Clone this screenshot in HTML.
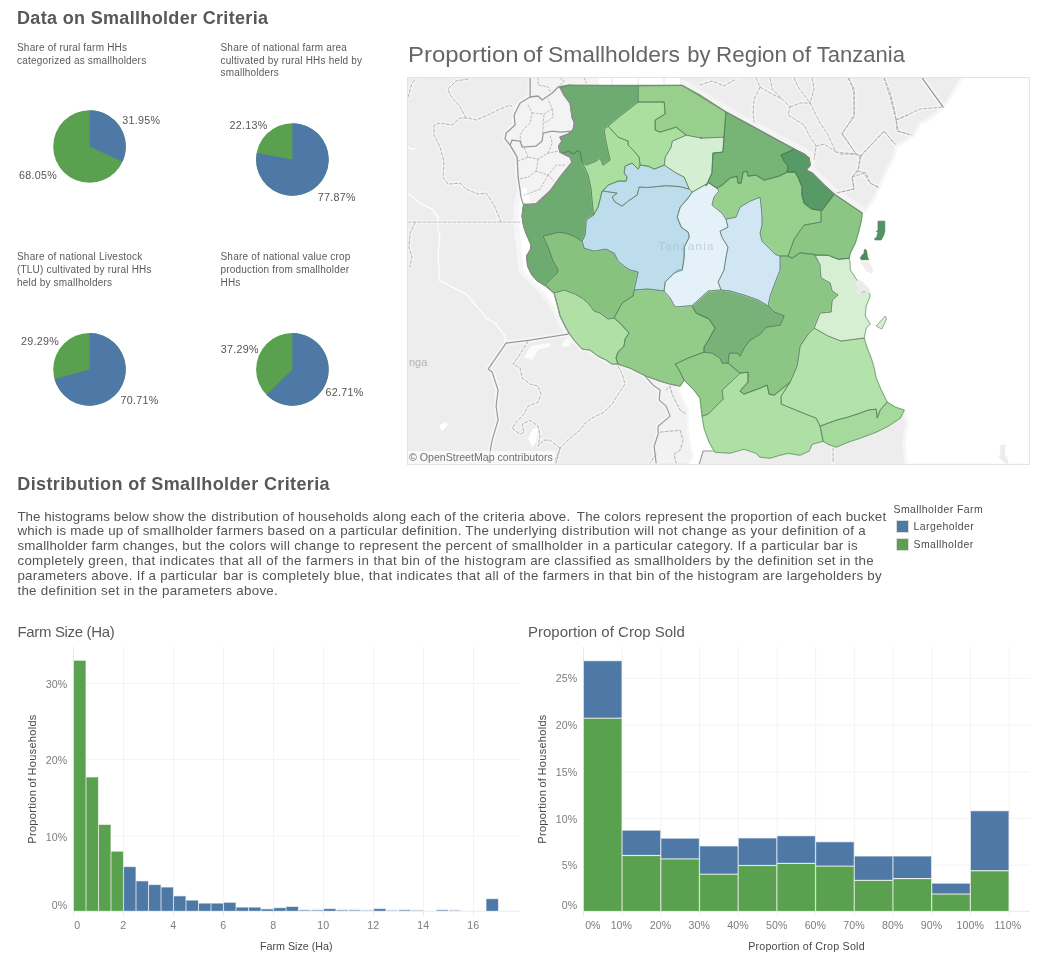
<!DOCTYPE html>
<html lang="en"><head><meta charset="utf-8"><title>Smallholder Dashboard</title>
<style>
html,body{margin:0;padding:0;background:#fff;}
body{width:1039px;height:965px;position:relative;overflow:hidden;font-family:"Liberation Sans",sans-serif;color:#555;}
.t{position:absolute;white-space:nowrap;line-height:1;}
.h1{font-size:18px;font-weight:bold;color:#585858;letter-spacing:0.33px;}
.mt{font-size:22px;color:#666;}
.st{font-size:10px;line-height:12.7px;color:#5a5a5a;letter-spacing:0.2px;white-space:normal;}
.pl{font-size:10.7px;color:#555;letter-spacing:0.3px;}
.para{position:absolute;font-size:13.33px;line-height:14.85px;color:#545454;white-space:nowrap;}
.ct{font-size:15px;color:#5a5a5a;}
.ax{font-size:10.6px;color:#7d7d7d;letter-spacing:0.1px;}
.axt{font-size:10.7px;color:#484848;}
.axt2{font-size:11px;color:#484848;letter-spacing:0.3px;word-spacing:-1px;}
.lg{font-size:10.5px;color:#4c4c4c;letter-spacing:0.42px;}
#mapwrap{position:absolute;left:407px;top:77px;width:622.5px;height:387.5px;overflow:hidden;}
#mapborder{position:absolute;left:407px;top:77px;width:621px;height:386px;border:1px solid #e3e3e3;box-sizing:content-box;pointer-events:none;}
svg{display:block;}
</style></head><body>

<div class="t h1" style="left:17px;top:8.6px;">Data on Smallholder Criteria</div>
<div class="t mt tw" style="left:407.80px;top:43.7px;transform-origin:0 0;transform:scaleX(1.089)">Proportion</div>
<div class="t mt tw" style="left:522.60px;top:43.7px;transform-origin:0 0;transform:scaleX(1.07)">of</div>
<div class="t mt tw" style="left:548.35px;top:43.7px;transform-origin:0 0;transform:scaleX(1.038)">Smallholders</div>
<div class="t mt tw" style="left:687.15px;top:43.7px;transform-origin:0 0;transform:scaleX(1.0)">by</div>
<div class="t mt tw" style="left:715.80px;top:43.7px;transform-origin:0 0;transform:scaleX(1.019)">Region</div>
<div class="t mt tw" style="left:791.60px;top:43.7px;transform-origin:0 0;transform:scaleX(1.04)">of</div>
<div class="t mt tw" style="left:816.80px;top:43.7px;transform-origin:0 0;transform:scaleX(1.0)">Tanzania</div>
<div class="t st" style="left:17px;top:41.8px;width:180px">Share of rural farm HHs<br>categorized as smallholders</div>
<div class="t st" style="left:220.5px;top:41.8px;width:180px">Share of national farm area<br>cultivated by rural HHs held by<br>smallholders</div>
<div class="t st" style="left:17px;top:251.4px;width:180px">Share of national Livestock<br>(TLU) cultivated by rural HHs<br>held by smallholders</div>
<div class="t st" style="left:220.5px;top:251.4px;width:180px">Share of national value crop<br>production from smallholder<br>HHs</div>
<svg style="position:absolute;left:0;top:0" width="400" height="470" viewBox="0 0 400 470"><circle cx="89.5" cy="146.5" r="36.3" fill="#59a14f"/><path d="M89.5,146.5 L89.5,110.2 A36.3,36.3 0 0 1 122.39,161.85 Z" fill="#4e79a7"/><circle cx="292.4" cy="159.5" r="36.3" fill="#59a14f"/><path d="M292.4,159.5 L292.4,123.2 A36.3,36.3 0 1 1 256.69,152.99 Z" fill="#4e79a7"/><circle cx="89.5" cy="369.4" r="36.3" fill="#59a14f"/><path d="M89.5,369.4 L89.5,333.09999999999997 A36.3,36.3 0 1 1 54.51,379.07 Z" fill="#4e79a7"/><circle cx="292.4" cy="369.4" r="36.3" fill="#59a14f"/><path d="M292.4,369.4 L292.4,333.09999999999997 A36.3,36.3 0 1 1 266.40,394.73 Z" fill="#4e79a7"/></svg>
<div class="t pl" style="left:122.3px;top:114.5px;">31.95%</div>
<div class="t pl" style="left:19px;top:170px;">68.05%</div>
<div class="t pl" style="left:229.6px;top:119.5px;">22.13%</div>
<div class="t pl" style="left:317.8px;top:192.3px;">77.87%</div>
<div class="t pl" style="left:20.9px;top:335.5px;">29.29%</div>
<div class="t pl" style="left:120.4px;top:395px;">70.71%</div>
<div class="t pl" style="left:220.7px;top:343.7px;">37.29%</div>
<div class="t pl" style="left:325.6px;top:387px;">62.71%</div>
<div id="mapwrap"><svg id="map" width="623" height="388" viewBox="0 0 623 388">
<rect width="623" height="388" fill="#ededed"/>
<path d="M1.0,145.1 L113.1,145.1" fill="none" stroke="#f3f3f3" stroke-width="4.5" stroke-linejoin="round" stroke-linecap="round"/>
<path d="M94.1,145.1 L87.1,128.1 L79.1,116.1 L71.1,117.1 L59.1,112.1 L53.1,106.1 L41.0,107.1 L36.0,100.1 L37.0,84.1 L33.0,70.1 L27.0,58.1 L27.0,48.0 L33.0,46.0 L45.1,48.0 L53.1,41.0 L61.1,41.0 L69.1,43.0 L81.1,38.0 L93.1,32.0 L103.1,28.0 L105.1,30.0" fill="none" stroke="#f3f3f3" stroke-width="4.5" stroke-linejoin="round" stroke-linecap="round"/>
<path d="M59.1,41.0 L53.1,30.0 L43.1,18.0 L41.0,12.0 L49.1,4.0 L61.1,2.0" fill="none" stroke="#f3f3f3" stroke-width="4.5" stroke-linejoin="round" stroke-linecap="round"/>
<path d="M1.0,20.0 L5.0,6.0 L9.0,2.0" fill="none" stroke="#f3f3f3" stroke-width="4.5" stroke-linejoin="round" stroke-linecap="round"/>
<path d="M8.0,145.1 L3.0,156.2 L2.0,170.2 L5.0,180.2 L3.0,190.2" fill="none" stroke="#f3f3f3" stroke-width="4.5" stroke-linejoin="round" stroke-linecap="round"/>
<path d="M121.1,264.1 L113.1,277.1 L106.1,287.1 L113.1,291.1 L115.1,301.1 L123.1,307.1 L131.1,309.1 L134.1,317.1 L131.1,325.1 L121.1,329.1 L117.1,337.1 L109.1,345.2 L105.1,351.2 L113.1,357.2 L117.1,355.2 L115.1,347.2 L123.1,343.2 L131.1,349.2 L133.1,359.2 L131.1,369.2 L137.1,363.2 L143.2,363.2 L153.2,371.2" fill="none" stroke="#f3f3f3" stroke-width="4.5" stroke-linejoin="round" stroke-linecap="round"/>
<path d="M211.1,289.1 L215.1,297.1 L218.1,307.1 L211.1,317.1 L205.1,327.1 L197.1,335.1 L185.1,341.1 L177.1,347.2 L173.1,353.2 L163.1,361.2 L153.1,371.2 L149.1,386.0" fill="none" stroke="#f3f3f3" stroke-width="4.5" stroke-linejoin="round" stroke-linecap="round"/>
<path d="M153.2,371.2 L149.2,381.2 L147.2,386.0" fill="none" stroke="#f3f3f3" stroke-width="4.5" stroke-linejoin="round" stroke-linecap="round"/>
<path d="M121.1,28.0 L125.1,36.0 L123.1,46.0 L115.1,54.1 L113.1,60.1 L115.1,69.1" fill="none" stroke="#f3f3f3" stroke-width="4.5" stroke-linejoin="round" stroke-linecap="round"/>
<path d="M125.1,36.0 L137.1,37.0 L145.2,32.0 L141.1,22.0" fill="none" stroke="#f3f3f3" stroke-width="4.5" stroke-linejoin="round" stroke-linecap="round"/>
<path d="M136.1,56.1 L136.1,46.0 L137.1,37.0" fill="none" stroke="#f3f3f3" stroke-width="4.5" stroke-linejoin="round" stroke-linecap="round"/>
<path d="M145.2,32.0 L146.2,40.0 L141.1,44.0 L136.1,46.0" fill="none" stroke="#f3f3f3" stroke-width="4.5" stroke-linejoin="round" stroke-linecap="round"/>
<path d="M111.1,84.1 L121.1,80.1 L131.1,82.1 L141.1,76.1 L151.2,74.1" fill="none" stroke="#f3f3f3" stroke-width="4.5" stroke-linejoin="round" stroke-linecap="round"/>
<path d="M121.1,80.1 L117.1,70.1" fill="none" stroke="#f3f3f3" stroke-width="4.5" stroke-linejoin="round" stroke-linecap="round"/>
<path d="M131.1,82.1 L129.1,94.1 L121.1,100.1 L111.1,102.1" fill="none" stroke="#f3f3f3" stroke-width="4.5" stroke-linejoin="round" stroke-linecap="round"/>
<path d="M129.1,94.1 L141.1,98.1 L149.2,88.1 L159.2,88.1" fill="none" stroke="#f3f3f3" stroke-width="4.5" stroke-linejoin="round" stroke-linecap="round"/>
<path d="M141.1,98.1 L133.1,112.1 L117.1,118.1" fill="none" stroke="#f3f3f3" stroke-width="4.5" stroke-linejoin="round" stroke-linecap="round"/>
<path d="M141.1,76.1 L145.2,66.1 L143.2,58.1" fill="none" stroke="#f3f3f3" stroke-width="4.5" stroke-linejoin="round" stroke-linecap="round"/>
<path d="M141.1,98.1 L147.2,104.1" fill="none" stroke="#f3f3f3" stroke-width="4.5" stroke-linejoin="round" stroke-linecap="round"/>
<path d="M131.1,1.0 L131.1,8.0 L141.1,10.0 L143.2,15.0" fill="none" stroke="#f3f3f3" stroke-width="4.5" stroke-linejoin="round" stroke-linecap="round"/>
<path d="M153.2,1.0 L157.2,4.0 L151.2,10.0" fill="none" stroke="#f3f3f3" stroke-width="4.5" stroke-linejoin="round" stroke-linecap="round"/>
<path d="M177.2,1.0 L179.2,6.0" fill="none" stroke="#f3f3f3" stroke-width="4.5" stroke-linejoin="round" stroke-linecap="round"/>
<path d="M293.0,8.0 L305.0,4.0 L317.0,9.0 L329.0,2.0" fill="none" stroke="#f3f3f3" stroke-width="4.5" stroke-linejoin="round" stroke-linecap="round"/>
<path d="M349.1,1.0 L353.1,10.0 L347.1,22.0 L346.1,36.0 L347.1,45.0" fill="none" stroke="#f3f3f3" stroke-width="4.5" stroke-linejoin="round" stroke-linecap="round"/>
<path d="M353.1,10.0 L363.1,16.0 L375.1,22.0 L383.1,30.0 L381.1,38.0 L397.1,48.0 L402.1,58.1 L409.1,69.1 L407.1,82.1" fill="none" stroke="#f3f3f3" stroke-width="4.5" stroke-linejoin="round" stroke-linecap="round"/>
<path d="M363.1,1.0 L365.1,12.0 L375.1,22.0" fill="none" stroke="#f3f3f3" stroke-width="4.5" stroke-linejoin="round" stroke-linecap="round"/>
<path d="M387.1,1.0 L391.1,10.0 L403.1,26.0 L413.1,46.0 L421.1,58.1 L429.1,75.1 L449.2,77.1 L453.2,79.1" fill="none" stroke="#f3f3f3" stroke-width="4.5" stroke-linejoin="round" stroke-linecap="round"/>
<path d="M383.1,30.0 L393.1,26.0 L403.1,26.0" fill="none" stroke="#f3f3f3" stroke-width="4.5" stroke-linejoin="round" stroke-linecap="round"/>
<path d="M405.1,1.0 L407.1,12.0 L403.1,26.0" fill="none" stroke="#f3f3f3" stroke-width="4.5" stroke-linejoin="round" stroke-linecap="round"/>
<path d="M409.1,69.1 L417.1,67.1 L429.1,75.1" fill="none" stroke="#f3f3f3" stroke-width="4.5" stroke-linejoin="round" stroke-linecap="round"/>
<path d="M441.1,1.0 L447.2,12.0 L447.2,40.0 L435.1,56.1 L443.2,68.1 L449.2,77.1" fill="none" stroke="#f3f3f3" stroke-width="4.5" stroke-linejoin="round" stroke-linecap="round"/>
<path d="M477.2,1.0 L483.2,16.0 L487.2,32.0 L489.2,43.0 L491.2,54.1 L501.0,57.1" fill="none" stroke="#f3f3f3" stroke-width="4.5" stroke-linejoin="round" stroke-linecap="round"/>
<path d="M453.2,79.1 L477.2,54.1 L485.2,64.1 L488.2,67.1" fill="none" stroke="#f3f3f3" stroke-width="4.5" stroke-linejoin="round" stroke-linecap="round"/>
<path d="M489.2,43.0 L501.0,38.0" fill="none" stroke="#f3f3f3" stroke-width="4.5" stroke-linejoin="round" stroke-linecap="round"/>
<path d="M453.2,79.1 L451.2,92.1 L445.2,100.1 L447.2,112.1 L429.1,116.1" fill="none" stroke="#f3f3f3" stroke-width="4.5" stroke-linejoin="round" stroke-linecap="round"/>
<path d="M451.2,94.1 L459.2,96.1 L463.2,106.1 L471.2,110.1" fill="none" stroke="#f3f3f3" stroke-width="4.5" stroke-linejoin="round" stroke-linecap="round"/>
<path d="M442.0,1.0 L447.0,16.0 L447.0,38.0 L435.0,57.1" fill="none" stroke="#f3f3f3" stroke-width="4.5" stroke-linejoin="round" stroke-linecap="round"/>
<path d="M477.0,1.0 L483.1,20.0 L489.1,43.0 L490.1,54.1 L505.1,58.1" fill="none" stroke="#f3f3f3" stroke-width="4.5" stroke-linejoin="round" stroke-linecap="round"/>
<path d="M489.1,43.0 L513.1,32.0 L536.1,30.0" fill="none" stroke="#f3f3f3" stroke-width="4.5" stroke-linejoin="round" stroke-linecap="round"/>
<path d="M435.0,57.1 L449.0,77.1 L454.0,79.1 L477.0,54.1 L488.1,67.1" fill="none" stroke="#f3f3f3" stroke-width="4.5" stroke-linejoin="round" stroke-linecap="round"/>
<path d="M433.0,77.1 L449.0,77.1" fill="none" stroke="#f3f3f3" stroke-width="4.5" stroke-linejoin="round" stroke-linecap="round"/>
<path d="M454.0,79.1 L451.0,94.1 L445.0,100.1 L447.0,112.1 L433.0,115.1" fill="none" stroke="#f3f3f3" stroke-width="4.5" stroke-linejoin="round" stroke-linecap="round"/>
<path d="M445.0,100.1 L457.0,96.1 L463.0,106.1 L471.0,110.1" fill="none" stroke="#f3f3f3" stroke-width="4.5" stroke-linejoin="round" stroke-linecap="round"/>
<path d="M426.1,371.2 L426.1,386.0" fill="none" stroke="#f3f3f3" stroke-width="4.5" stroke-linejoin="round" stroke-linecap="round"/>
<path d="M259.1,313.1 L263.1,309.1 L265.1,317.1 L273.1,333.1 L279.1,337.1" fill="none" stroke="#f3f3f3" stroke-width="4.5" stroke-linejoin="round" stroke-linecap="round"/>
<path d="M253.1,355.2 L273.1,353.2 L276.1,363.2 L273.1,373.2 L267.1,377.2 L269.1,386.0" fill="none" stroke="#f3f3f3" stroke-width="4.5" stroke-linejoin="round" stroke-linecap="round"/>
<path d="M249.1,377.2 L243.1,386.0" fill="none" stroke="#f3f3f3" stroke-width="4.5" stroke-linejoin="round" stroke-linecap="round"/>
<path d="M153.1,10.4 L162.1,8.4 L275.2,8.4 L319.0,35.0 L387.1,72.1 L397.1,77.1 L402.1,81.1 L403.1,88.1 L399.1,93.1 L405.1,96.1 L417.1,108.1 L427.1,117.1 L455.2,136.1" fill="none" stroke="#f4f4f4" stroke-width="7" stroke-linejoin="round" stroke-linecap="round" transform="translate(1.4,-2)"/>
<path d="M123.1,1.0 L123.1,20.0 L113.1,26.0 L107.1,38.0 L108.1,48.0 L99.1,56.1 L98.1,62.1 L103.1,68.1 L110.1,80.1 L111.1,100.1 L114.1,120.1 L116.1,127.1 L129.1,127.1" fill="none" stroke="#f6f6f6" stroke-width="5" stroke-linejoin="round" stroke-linecap="round" />
<path d="M114.1,112.1 L111.1,128.1 L110.1,144.1 L113.1,170.2 L115.5,193.0 L123.1,201.0 L135.1,213.0 L147.2,229.0 L155.2,245.1 L161.2,255.1 L166.2,262.1" fill="none" stroke="#f6f6f6" stroke-width="8" stroke-linejoin="round" stroke-linecap="round" />
<path d="M99.1,266.1 L123.1,263.1 L161.2,257.1" fill="none" stroke="#f6f6f6" stroke-width="5" stroke-linejoin="round" stroke-linecap="round" />
<path d="M99.1,266.1 L81.1,292.1 L85.1,295.1 L91.1,313.1 L89.1,329.1 L91.1,343.2 L85.1,363.2 L81.1,386.0" fill="none" stroke="#f6f6f6" stroke-width="5" stroke-linejoin="round" stroke-linecap="round" />
<path d="M238.0,299.1 L247.1,309.1 L253.1,313.1 L252.1,323.1 L259.1,329.1 L263.1,339.1 L251.1,349.2 L251.1,357.2 L247.1,369.2 L249.1,386.0" fill="none" stroke="#f6f6f6" stroke-width="5" stroke-linejoin="round" stroke-linecap="round" />
<path d="M515.1,1.0 L536.1,30.0" fill="none" stroke="#f6f6f6" stroke-width="5" stroke-linejoin="round" stroke-linecap="round" />
<path d="M153.1,10.4 L157.1,18.0 L163.1,26.0 L164.1,32.0 L165.1,40.0 L167.5,46.0 L166.1,53.1 L161.1,57.1 L153.1,60.1 L155.1,64.1 L151.7,69.1 L153.1,75.1 L163.1,80.1 L165.1,85.1 L161.1,90.1 L153.1,100.1 L143.1,114.1 L129.0,127.1 L117.0,128.1" fill="none" stroke="#f6f6f6" stroke-width="6" stroke-linejoin="round" stroke-linecap="round" />
<path d="M162.1,256.7 L167.1,263.1 L175.1,272.1 L183.1,273.1 L191.1,279.1 L199.1,283.1 L205.1,287.1 L211.1,287.1 L211.0,287.1 L223.0,291.1 L239.0,299.1 L253.1,304.1 L263.1,307.1 L273.1,309.1 L277.1,303.1" fill="none" stroke="#f6f6f6" stroke-width="5" stroke-linejoin="round" stroke-linecap="round" />
<path d="M123.1,20.0 L113.1,26.0 L107.1,38.0 L108.1,48.0 L99.1,56.1 L98.1,62.1 L103.1,68.1 L110.1,80.1 L111.1,100.1 L114.1,120.1 L116.1,127.1 L129.1,127.1 L145.2,112.1 L159.2,94.1 L165.2,84.1 L153.2,74.1 L153.2,66.1 L165.2,54.1 L163.2,26.0 L153.2,10.0 L145.2,16.0 L135.1,23.0 L131.1,19.0Z" fill="#f3f3f3" stroke="none" stroke-width="0" />
<path d="M123.1,1.0 L123.1,20.0 L131.1,19.0 L135.1,23.0 L145.2,16.0 L151.2,10.0 L163.2,8.0 L193.2,8.0 L193.2,1.0Z" fill="#f3f3f3" stroke="none" stroke-width="0" />
<path d="M555.0,0.0 L537.0,30.0 L521.0,43.0 L513.0,46.0 L507.0,58.0 L489.0,70.0 L487.0,80.0 L479.0,94.0 L473.0,108.0 L467.0,122.0 L459.0,132.0 L455.4,136.0 L443.0,173.0 L433.0,223.0 L443.0,273.0 L453.0,323.0 L473.0,333.0 L497.0,334.0 L500.0,346.0 L497.0,365.0 L499.0,388.0 L624.0,388.0 L624.0,0.0Z" fill="#ffffff" stroke="#f6f6f6" stroke-width="3" />
<path d="M192.0,0.0 L192.0,9.0 L273.0,9.0 L273.0,0.0Z" fill="#ffffff" stroke="none" stroke-width="0" />
<path d="M114.5,112.0 L112.5,128.0 L112.0,144.0 L114.5,170.0 L116.5,193.0 L124.0,201.0 L135.5,213.0 L147.0,229.0 L155.0,245.0 L160.5,255.0 L166.0,262.0 L175.0,261.0 L165.0,235.0 L155.0,215.0 L140.0,199.0 L129.0,185.0 L127.0,163.0 L123.0,138.0 L123.0,123.0 L119.0,110.0Z" fill="#ffffff" stroke="none" stroke-width="0" />
<path d="M238.0,299.1 L247.1,309.1 L253.1,313.1 L252.1,323.1 L259.1,329.1 L263.1,339.1 L251.1,349.2 L251.1,357.2 L247.1,369.2 L249.1,386.0 L297.1,386.0 L283.1,353.2 L281.1,321.1 L273.1,307.1 L259.1,305.1Z" fill="#f2f2f2" stroke="none" stroke-width="0" />
<path d="M271.0,304.0 L279.0,304.0 L297.0,323.0 L301.0,349.0 L309.0,373.0 L307.0,374.0 L296.2,374.0 L291.6,389.0 L280.8,389.0 L285.4,379.3 L280.8,354.6 L280.8,333.0 L271.5,313.0Z" fill="#ffffff" stroke="#f7f7f7" stroke-width="2" />
<path d="M307.0,374.0 L296.2,374.0 L291.6,389.0 L353.0,389.0 L353.0,378.0Z" fill="#efefef" stroke="none" stroke-width="0" />
<path d="M117.1,281.1 L123.1,269.1 L143.2,266.1 L144.2,269.1 L131.1,273.1 L125.1,283.1Z" fill="#fbfbfb" stroke="none" stroke-width="0" />
<path d="M154.2,269.1 L159.2,261.1 L163.2,263.1 L162.2,270.1Z" fill="#fbfbfb" stroke="none" stroke-width="0" />
<path d="M121.1,361.2 L126.1,351.2 L131.1,351.2 L129.1,365.2 L125.1,370.2Z" fill="#ffffff" stroke="none" stroke-width="0" />
<path d="M32.0,348.2 L39.0,345.2 L41.0,348.2 L35.0,354.2Z" fill="#ffffff" stroke="none" stroke-width="0" />
<path d="M593.3,368.1 L598.6,367.3 L597.9,376.5 L601.7,384.8 L600.1,387.1 L595.6,384.1 L591.8,380.3 L593.3,376.5Z" fill="#ededed" stroke="none" stroke-width="0" />
<path d="M453.0,184.6 L462.0,184.6 L466.0,193.0 L465.0,197.0 L459.0,194.0Z" fill="#eeeeee" stroke="none" stroke-width="0" />
<path d="M1.0,116.1 L13.0,126.1 L25.0,132.1 L31.0,140.1 L31.0,152.2 L33.0,160.2 L31.0,176.2 L32.0,193.0 L32.0,203.0 L43.1,209.0 L59.1,217.0 L71.1,231.0 L79.1,241.0 L89.1,247.1 L98.1,259.1 L98.1,266.1" fill="none" stroke="#ffffff" stroke-width="1.2" stroke-linejoin="round" stroke-linecap="round" />
<path d="M1.0,70.1 L5.0,72.1 L8.0,71.7" fill="none" stroke="#ffffff" stroke-width="1.2" stroke-linejoin="round" stroke-linecap="round" />
<path d="M1.0,145.1 L113.1,145.1" fill="none" stroke="#b4b4b4" stroke-width="0.8" stroke-linejoin="round" stroke-linecap="round" stroke-dasharray="3 2" />
<path d="M94.1,145.1 L87.1,128.1 L79.1,116.1 L71.1,117.1 L59.1,112.1 L53.1,106.1 L41.0,107.1 L36.0,100.1 L37.0,84.1 L33.0,70.1 L27.0,58.1 L27.0,48.0 L33.0,46.0 L45.1,48.0 L53.1,41.0 L61.1,41.0 L69.1,43.0 L81.1,38.0 L93.1,32.0 L103.1,28.0 L105.1,30.0" fill="none" stroke="#acacac" stroke-width="0.9" stroke-linejoin="round" stroke-linecap="round" stroke-dasharray="3 2" />
<path d="M59.1,41.0 L53.1,30.0 L43.1,18.0 L41.0,12.0 L49.1,4.0 L61.1,2.0" fill="none" stroke="#acacac" stroke-width="0.9" stroke-linejoin="round" stroke-linecap="round" stroke-dasharray="3 2" />
<path d="M1.0,20.0 L5.0,6.0 L9.0,2.0" fill="none" stroke="#acacac" stroke-width="0.9" stroke-linejoin="round" stroke-linecap="round" stroke-dasharray="3 2" />
<path d="M8.0,145.1 L3.0,156.2 L2.0,170.2 L5.0,180.2 L3.0,190.2" fill="none" stroke="#acacac" stroke-width="0.9" stroke-linejoin="round" stroke-linecap="round" stroke-dasharray="3 2" />
<path d="M121.1,264.1 L113.1,277.1 L106.1,287.1 L113.1,291.1 L115.1,301.1 L123.1,307.1 L131.1,309.1 L134.1,317.1 L131.1,325.1 L121.1,329.1 L117.1,337.1 L109.1,345.2 L105.1,351.2 L113.1,357.2 L117.1,355.2 L115.1,347.2 L123.1,343.2 L131.1,349.2 L133.1,359.2 L131.1,369.2 L137.1,363.2 L143.2,363.2 L153.2,371.2" fill="none" stroke="#acacac" stroke-width="0.9" stroke-linejoin="round" stroke-linecap="round" stroke-dasharray="3 2" />
<path d="M211.1,289.1 L215.1,297.1 L218.1,307.1 L211.1,317.1 L205.1,327.1 L197.1,335.1 L185.1,341.1 L177.1,347.2 L173.1,353.2 L163.1,361.2 L153.1,371.2 L149.1,386.0" fill="none" stroke="#acacac" stroke-width="0.9" stroke-linejoin="round" stroke-linecap="round" stroke-dasharray="3 2" />
<path d="M153.2,371.2 L149.2,381.2 L147.2,386.0" fill="none" stroke="#acacac" stroke-width="0.9" stroke-linejoin="round" stroke-linecap="round" stroke-dasharray="3 2" />
<path d="M121.1,28.0 L125.1,36.0 L123.1,46.0 L115.1,54.1 L113.1,60.1 L115.1,69.1" fill="none" stroke="#acacac" stroke-width="0.8" stroke-linejoin="round" stroke-linecap="round" stroke-dasharray="2 2" />
<path d="M125.1,36.0 L137.1,37.0 L145.2,32.0 L141.1,22.0" fill="none" stroke="#acacac" stroke-width="0.8" stroke-linejoin="round" stroke-linecap="round" stroke-dasharray="2 2" />
<path d="M136.1,56.1 L136.1,46.0 L137.1,37.0" fill="none" stroke="#acacac" stroke-width="0.8" stroke-linejoin="round" stroke-linecap="round" stroke-dasharray="2 2" />
<path d="M145.2,32.0 L146.2,40.0 L141.1,44.0 L136.1,46.0" fill="none" stroke="#acacac" stroke-width="0.8" stroke-linejoin="round" stroke-linecap="round" stroke-dasharray="2 2" />
<path d="M111.1,84.1 L121.1,80.1 L131.1,82.1 L141.1,76.1 L151.2,74.1" fill="none" stroke="#acacac" stroke-width="0.8" stroke-linejoin="round" stroke-linecap="round" stroke-dasharray="2 2" />
<path d="M121.1,80.1 L117.1,70.1" fill="none" stroke="#acacac" stroke-width="0.8" stroke-linejoin="round" stroke-linecap="round" stroke-dasharray="2 2" />
<path d="M131.1,82.1 L129.1,94.1 L121.1,100.1 L111.1,102.1" fill="none" stroke="#acacac" stroke-width="0.8" stroke-linejoin="round" stroke-linecap="round" stroke-dasharray="2 2" />
<path d="M129.1,94.1 L141.1,98.1 L149.2,88.1 L159.2,88.1" fill="none" stroke="#acacac" stroke-width="0.8" stroke-linejoin="round" stroke-linecap="round" stroke-dasharray="2 2" />
<path d="M141.1,98.1 L133.1,112.1 L117.1,118.1" fill="none" stroke="#acacac" stroke-width="0.8" stroke-linejoin="round" stroke-linecap="round" stroke-dasharray="2 2" />
<path d="M141.1,76.1 L145.2,66.1 L143.2,58.1" fill="none" stroke="#acacac" stroke-width="0.8" stroke-linejoin="round" stroke-linecap="round" stroke-dasharray="2 2" />
<path d="M141.1,98.1 L147.2,104.1" fill="none" stroke="#acacac" stroke-width="0.8" stroke-linejoin="round" stroke-linecap="round" stroke-dasharray="2 2" />
<path d="M131.1,1.0 L131.1,8.0 L141.1,10.0 L143.2,15.0" fill="none" stroke="#acacac" stroke-width="0.8" stroke-linejoin="round" stroke-linecap="round" stroke-dasharray="2 2" />
<path d="M153.2,1.0 L157.2,4.0 L151.2,10.0" fill="none" stroke="#acacac" stroke-width="0.8" stroke-linejoin="round" stroke-linecap="round" stroke-dasharray="2 2" />
<path d="M177.2,1.0 L179.2,6.0" fill="none" stroke="#acacac" stroke-width="0.8" stroke-linejoin="round" stroke-linecap="round" stroke-dasharray="2 2" />
<path d="M205.0,1.0 L205.0,8.0" fill="none" stroke="#e4e4e4" stroke-width="1" stroke-linejoin="round" stroke-linecap="round" />
<path d="M231.0,1.0 L231.0,8.0" fill="none" stroke="#e4e4e4" stroke-width="1" stroke-linejoin="round" stroke-linecap="round" />
<path d="M257.0,1.0 L257.0,8.0" fill="none" stroke="#e4e4e4" stroke-width="1" stroke-linejoin="round" stroke-linecap="round" />
<path d="M293.0,8.0 L305.0,4.0 L317.0,9.0 L329.0,2.0" fill="none" stroke="#acacac" stroke-width="0.9" stroke-linejoin="round" stroke-linecap="round" stroke-dasharray="3 2" />
<path d="M349.1,1.0 L353.1,10.0 L347.1,22.0 L346.1,36.0 L347.1,45.0" fill="none" stroke="#acacac" stroke-width="0.9" stroke-linejoin="round" stroke-linecap="round" stroke-dasharray="3 2" />
<path d="M353.1,10.0 L363.1,16.0 L375.1,22.0 L383.1,30.0 L381.1,38.0 L397.1,48.0 L402.1,58.1 L409.1,69.1 L407.1,82.1" fill="none" stroke="#acacac" stroke-width="0.9" stroke-linejoin="round" stroke-linecap="round" stroke-dasharray="3 2" />
<path d="M363.1,1.0 L365.1,12.0 L375.1,22.0" fill="none" stroke="#acacac" stroke-width="0.9" stroke-linejoin="round" stroke-linecap="round" stroke-dasharray="3 2" />
<path d="M387.1,1.0 L391.1,10.0 L403.1,26.0 L413.1,46.0 L421.1,58.1 L429.1,75.1 L449.2,77.1 L453.2,79.1" fill="none" stroke="#acacac" stroke-width="0.9" stroke-linejoin="round" stroke-linecap="round" stroke-dasharray="3 2" />
<path d="M383.1,30.0 L393.1,26.0 L403.1,26.0" fill="none" stroke="#acacac" stroke-width="0.9" stroke-linejoin="round" stroke-linecap="round" stroke-dasharray="3 2" />
<path d="M405.1,1.0 L407.1,12.0 L403.1,26.0" fill="none" stroke="#acacac" stroke-width="0.9" stroke-linejoin="round" stroke-linecap="round" stroke-dasharray="3 2" />
<path d="M409.1,69.1 L417.1,67.1 L429.1,75.1" fill="none" stroke="#acacac" stroke-width="0.9" stroke-linejoin="round" stroke-linecap="round" stroke-dasharray="3 2" />
<path d="M441.1,1.0 L447.2,12.0 L447.2,40.0 L435.1,56.1 L443.2,68.1 L449.2,77.1" fill="none" stroke="#acacac" stroke-width="0.9" stroke-linejoin="round" stroke-linecap="round" stroke-dasharray="3 2" />
<path d="M477.2,1.0 L483.2,16.0 L487.2,32.0 L489.2,43.0 L491.2,54.1 L501.0,57.1" fill="none" stroke="#acacac" stroke-width="0.9" stroke-linejoin="round" stroke-linecap="round" stroke-dasharray="3 2" />
<path d="M453.2,79.1 L477.2,54.1 L485.2,64.1 L488.2,67.1" fill="none" stroke="#acacac" stroke-width="0.9" stroke-linejoin="round" stroke-linecap="round" stroke-dasharray="3 2" />
<path d="M489.2,43.0 L501.0,38.0" fill="none" stroke="#acacac" stroke-width="0.9" stroke-linejoin="round" stroke-linecap="round" stroke-dasharray="3 2" />
<path d="M453.2,79.1 L451.2,92.1 L445.2,100.1 L447.2,112.1 L429.1,116.1" fill="none" stroke="#acacac" stroke-width="0.9" stroke-linejoin="round" stroke-linecap="round" stroke-dasharray="3 2" />
<path d="M451.2,94.1 L459.2,96.1 L463.2,106.1 L471.2,110.1" fill="none" stroke="#acacac" stroke-width="0.9" stroke-linejoin="round" stroke-linecap="round" stroke-dasharray="3 2" />
<path d="M442.0,1.0 L447.0,16.0 L447.0,38.0 L435.0,57.1" fill="none" stroke="#acacac" stroke-width="0.9" stroke-linejoin="round" stroke-linecap="round" stroke-dasharray="3 2" />
<path d="M477.0,1.0 L483.1,20.0 L489.1,43.0 L490.1,54.1 L505.1,58.1" fill="none" stroke="#acacac" stroke-width="0.9" stroke-linejoin="round" stroke-linecap="round" stroke-dasharray="3 2" />
<path d="M489.1,43.0 L513.1,32.0 L536.1,30.0" fill="none" stroke="#acacac" stroke-width="0.9" stroke-linejoin="round" stroke-linecap="round" stroke-dasharray="3 2" />
<path d="M435.0,57.1 L449.0,77.1 L454.0,79.1 L477.0,54.1 L488.1,67.1" fill="none" stroke="#acacac" stroke-width="0.9" stroke-linejoin="round" stroke-linecap="round" stroke-dasharray="3 2" />
<path d="M433.0,77.1 L449.0,77.1" fill="none" stroke="#acacac" stroke-width="0.9" stroke-linejoin="round" stroke-linecap="round" stroke-dasharray="3 2" />
<path d="M454.0,79.1 L451.0,94.1 L445.0,100.1 L447.0,112.1 L433.0,115.1" fill="none" stroke="#acacac" stroke-width="0.9" stroke-linejoin="round" stroke-linecap="round" stroke-dasharray="3 2" />
<path d="M445.0,100.1 L457.0,96.1 L463.0,106.1 L471.0,110.1" fill="none" stroke="#acacac" stroke-width="0.9" stroke-linejoin="round" stroke-linecap="round" stroke-dasharray="3 2" />
<path d="M426.1,371.2 L426.1,386.0" fill="none" stroke="#acacac" stroke-width="0.9" stroke-linejoin="round" stroke-linecap="round" stroke-dasharray="3 2" />
<path d="M259.1,313.1 L263.1,309.1 L265.1,317.1 L273.1,333.1 L279.1,337.1" fill="none" stroke="#acacac" stroke-width="0.9" stroke-linejoin="round" stroke-linecap="round" stroke-dasharray="3 2" />
<path d="M253.1,355.2 L273.1,353.2 L276.1,363.2 L273.1,373.2 L267.1,377.2 L269.1,386.0" fill="none" stroke="#acacac" stroke-width="0.9" stroke-linejoin="round" stroke-linecap="round" stroke-dasharray="3 2" />
<path d="M249.1,377.2 L243.1,386.0" fill="none" stroke="#acacac" stroke-width="0.9" stroke-linejoin="round" stroke-linecap="round" stroke-dasharray="3 2" />
<path d="M123.1,1.0 L123.1,20.0 L131.1,19.0 L135.1,23.0 L145.2,16.0 L151.2,10.0 L163.2,8.0" fill="none" stroke="#9a9a9a" stroke-width="1.3" stroke-linejoin="round" stroke-linecap="round" />
<path d="M123.1,20.0 L113.1,26.0 L107.1,38.0 L108.1,48.0 L99.1,56.1 L98.1,62.1 L103.1,68.1 L105.1,63.1 L113.1,64.1 L115.1,70.1 L129.1,69.1 L135.1,64.1 L136.1,56.1 L145.2,54.1 L153.2,55.1 L165.2,54.1" fill="none" stroke="#9a9a9a" stroke-width="1.3" stroke-linejoin="round" stroke-linecap="round" />
<path d="M103.1,68.1 L110.1,80.1 L111.1,100.1 L114.1,120.1 L116.1,127.1 L129.1,127.1" fill="none" stroke="#9a9a9a" stroke-width="1.3" stroke-linejoin="round" stroke-linecap="round" />
<path d="M99.1,266.1 L123.1,263.1 L161.2,257.1" fill="none" stroke="#9a9a9a" stroke-width="1.2" stroke-linejoin="round" stroke-linecap="round" />
<path d="M99.1,266.1 L81.1,292.1 L85.1,295.1 L91.1,313.1 L89.1,329.1 L91.1,343.2 L85.1,363.2 L81.1,386.0" fill="none" stroke="#9a9a9a" stroke-width="1.2" stroke-linejoin="round" stroke-linecap="round" />
<path d="M238.0,299.1 L247.1,309.1 L253.1,313.1 L252.1,323.1 L259.1,329.1 L263.1,339.1 L251.1,349.2 L251.1,357.2 L247.1,369.2 L249.1,386.0" fill="none" stroke="#9a9a9a" stroke-width="1.2" stroke-linejoin="round" stroke-linecap="round" />
<path d="M307.0,374.0 L296.2,374.0 L291.6,389.0" fill="none" stroke="#9a9a9a" stroke-width="1.1" stroke-linejoin="round" stroke-linecap="round" />
<path d="M515.1,1.0 L536.1,30.0" fill="none" stroke="#8a8a8a" stroke-width="1.2" stroke-linejoin="round" stroke-linecap="round" />
<g stroke="#4f7558" stroke-opacity="0.7" stroke-width="0.8" stroke-linejoin="round">
<path d="M153.1,10.4 L162.1,8.4 L231.1,9.0 L231.1,25.0 L213.1,39.0 L201.1,49.0 L197.1,52.1 L198.1,60.1 L200.1,70.1 L203.1,83.1 L196.1,88.1 L193.1,81.1 L189.1,84.1 L179.1,88.1 L175.1,85.1 L173.1,75.1 L170.1,73.7 L167.1,77.1 L161.1,74.1 L157.1,76.1 L153.1,75.1 L151.7,69.1 L155.1,64.1 L153.1,60.1 L161.1,57.1 L166.1,53.1 L167.5,46.0 L165.1,40.0 L164.1,32.0 L163.1,26.0 L157.1,18.0Z" fill="#6dab71" stroke="#6dab71" stroke-opacity="1" stroke-width="1.4"/>
<path d="M153.1,75.1 L157.1,76.1 L161.1,74.1 L167.1,77.1 L170.1,73.7 L173.1,75.1 L175.1,85.1 L181.1,98.1 L184.1,112.1 L185.1,124.1 L186.5,138.1 L179.1,143.1 L178.7,152.2 L178.1,158.2 L175.1,164.2 L167.1,159.2 L159.1,156.2 L151.1,155.2 L136.0,159.2 L141.0,170.2 L146.1,184.2 L151.1,193.0 L150.1,196.0 L137.8,208.5 L130.3,203.7 L124.7,197.5 L120.6,188.8 L119.7,178.9 L123.5,172.7 L124.1,167.7 L119.7,157.7 L116.6,149.0 L115.1,139.1 L116.6,127.9 L117.0,128.1 L129.0,127.1 L143.1,114.1 L153.1,100.1 L161.1,90.1 L165.1,85.1 L163.1,80.1Z" fill="#6dab71" stroke="#6dab71" stroke-opacity="1" stroke-width="1.4"/>
<path d="M136.0,159.2 L151.1,155.2 L159.1,156.2 L167.1,159.2 L175.1,164.2 L177.1,171.2 L187.1,174.2 L199.1,172.2 L207.1,176.2 L211.1,184.2 L217.1,189.2 L223.1,193.0 L231.1,195.0 L229.1,205.0 L227.1,213.0 L226.1,219.0 L215.1,226.0 L207.1,241.0 L201.1,242.0 L193.1,236.0 L187.1,234.0 L181.1,226.0 L175.1,221.0 L168.1,217.0 L157.1,213.0 L147.1,216.0 L138.0,207.0 L150.1,196.0 L151.1,193.0 L146.1,184.2 L141.0,170.2Z" fill="#87c27f" stroke="#87c27f" stroke-opacity="1" stroke-width="1.4"/>
<path d="M147.1,216.0 L157.1,213.0 L168.1,217.0 L175.1,221.0 L181.1,226.0 L187.1,234.0 L193.1,236.0 L201.1,242.0 L207.1,241.0 L213.1,246.1 L222.1,256.1 L218.1,262.1 L217.1,269.1 L211.1,275.1 L209.1,281.1 L211.1,287.1 L205.1,287.1 L199.1,283.1 L191.1,279.1 L183.1,273.1 L175.1,272.1 L167.1,263.1 L159.1,251.1 L153.1,239.0 L150.1,227.0Z" fill="#b0e0a6" stroke="#b0e0a6" stroke-opacity="1" stroke-width="1.4"/>
<path d="M207.0,241.0 L215.0,226.0 L226.0,219.0 L227.0,213.0 L241.0,212.0 L257.1,214.0 L263.1,221.0 L268.1,230.0 L285.1,228.6 L289.1,236.0 L302.1,242.0 L308.1,251.1 L302.1,262.1 L297.1,270.1 L297.1,275.1 L281.1,281.1 L268.1,287.1 L272.1,293.1 L277.1,303.1 L273.1,309.1 L263.1,307.1 L253.1,304.1 L239.0,299.1 L223.0,291.1 L211.0,287.1 L209.0,281.1 L211.0,275.1 L217.0,269.1 L218.0,262.1 L222.0,256.1 L213.0,246.1Z" fill="#93cc89" stroke="#93cc89" stroke-opacity="1" stroke-width="1.4"/>
<path d="M285.1,228.6 L301.1,214.0 L313.1,213.0 L323.1,214.0 L337.1,218.0 L351.2,223.0 L361.2,229.0 L367.2,235.0 L377.2,239.0 L373.2,248.1 L359.2,250.1 L353.2,257.1 L343.2,263.1 L337.1,271.1 L333.1,279.1 L331.1,276.1 L322.1,276.1 L321.1,286.1 L315.1,286.1 L313.1,281.1 L305.1,276.1 L297.1,275.1 L297.1,270.1 L302.1,262.1 L308.1,251.1 L302.1,242.0 L289.1,236.0Z" fill="#79b279" stroke="#79b279" stroke-opacity="1" stroke-width="1.4"/>
<path d="M268.1,287.1 L281.1,281.1 L297.1,275.1 L305.1,276.1 L313.1,281.1 L315.1,286.1 L321.1,286.1 L333.1,296.1 L315.1,313.1 L316.1,322.1 L301.1,337.1 L295.1,339.1 L293.1,321.1 L287.1,313.1 L277.1,303.1 L272.1,293.1Z" fill="#93cc89" stroke="#93cc89" stroke-opacity="1" stroke-width="1.4"/>
<path d="M295.1,339.1 L301.1,337.1 L316.1,322.1 L315.1,313.1 L333.1,296.1 L341.1,295.1 L341.1,305.1 L333.1,314.1 L337.1,317.1 L353.2,311.1 L360.2,308.1 L362.2,317.1 L367.2,318.1 L383.2,305.1 L374.2,319.1 L374.2,327.1 L401.1,338.1 L409.1,341.1 L413.1,349.2 L416.1,364.2 L405.1,367.2 L402.1,374.2 L393.1,378.2 L381.1,376.2 L373.1,378.2 L363.1,381.2 L353.1,380.2 L349.1,376.2 L337.0,372.2 L323.0,376.2 L308.0,375.2 L302.1,365.2 L297.1,351.2Z" fill="#aedfa5" stroke="#aedfa5" stroke-opacity="1" stroke-width="1.4"/>
<path d="M373.1,178.8 L381.1,178.8 L385.1,181.2 L393.1,175.8 L407.1,177.8 L413.1,188.2 L413.1,193.0 L414.1,201.0 L423.1,206.0 L425.1,214.0 L431.1,218.0 L425.1,223.0 L424.1,235.0 L413.1,236.0 L407.1,251.1 L401.1,257.1 L393.1,269.1 L390.1,289.1 L383.1,305.1 L367.1,318.1 L362.1,317.1 L360.1,308.1 L353.1,311.1 L337.0,317.1 L333.0,314.1 L341.0,305.1 L341.0,295.1 L333.0,296.1 L321.0,286.1 L322.0,276.1 L331.0,276.1 L333.0,279.1 L337.0,271.1 L343.1,263.1 L353.1,257.1 L359.1,250.1 L373.1,248.1 L377.1,239.0 L367.1,235.0 L361.1,229.0 L363.1,219.0 L369.1,203.0 L373.1,193.0Z" fill="#8cc684" stroke="#8cc684" stroke-opacity="1" stroke-width="1.4"/>
<path d="M374.1,327.1 L374.1,319.1 L383.1,305.1 L390.1,289.1 L393.1,269.1 L401.1,257.1 L407.1,251.1 L421.1,259.1 L434.1,264.1 L457.2,261.1 L460.2,271.1 L464.2,281.1 L467.2,291.1 L469.2,301.1 L474.2,313.1 L480.2,325.1 L473.2,333.1 L470.2,341.1 L469.2,332.1 L461.2,333.1 L453.2,336.1 L441.1,340.1 L429.1,343.2 L413.1,349.2 L409.1,341.1 L401.1,338.1Z" fill="#b4e2ab" stroke="#b4e2ab" stroke-opacity="1" stroke-width="1.4"/>
<path d="M413.1,349.2 L429.1,343.2 L441.1,340.1 L453.2,336.1 L461.2,333.1 L469.2,332.1 L470.2,341.1 L473.2,333.1 L480.2,325.1 L488.2,330.1 L497.2,333.1 L493.2,341.1 L481.2,349.2 L469.2,355.2 L453.2,361.2 L441.1,365.2 L429.1,370.2 L421.1,367.2 L416.1,364.2Z" fill="#a5da9c" stroke="#a5da9c" stroke-opacity="1" stroke-width="1.4"/>
<path d="M408.1,177.8 L421.1,178.2 L431.1,182.2 L442.1,181.2 L443.2,187.2 L443.2,193.0 L447.2,199.0 L451.2,205.0 L451.2,216.0 L461.2,213.0 L463.2,219.0 L459.2,229.0 L458.2,239.0 L463.2,247.1 L459.2,251.1 L457.2,261.1 L434.1,264.1 L421.1,259.1 L407.1,251.1 L413.1,236.0 L424.1,235.0 L425.1,223.0 L431.1,218.0 L425.1,214.0 L423.1,206.0 L414.1,201.0 L413.1,193.0 L413.1,188.2Z" fill="#d6efd3" stroke="#d6efd3" stroke-opacity="1" stroke-width="1.4"/>
<path d="M427.1,117.1 L455.2,136.1 L454.2,144.1 L451.2,156.2 L448.2,166.2 L443.2,176.2 L442.1,181.2 L431.1,182.2 L421.1,178.2 L409.1,178.2 L407.1,177.2 L393.1,175.8 L385.1,181.2 L381.1,179.2 L387.1,162.2 L397.1,148.1 L414.1,145.1 L414.1,134.1 L415.1,133.1Z" fill="#8cc684" stroke="#8cc684" stroke-opacity="1" stroke-width="1.4"/>
<path d="M310.0,111.1 L315.0,108.1 L323.0,101.1 L330.0,99.1 L331.0,106.1 L334.0,106.1 L336.0,95.1 L340.0,94.1 L341.0,99.1 L349.1,98.1 L357.1,103.1 L361.1,102.1 L372.1,99.1 L380.1,95.1 L388.1,95.1 L391.1,100.1 L395.1,110.1 L395.1,118.1 L397.1,126.1 L405.1,132.1 L414.1,134.1 L414.1,145.1 L397.1,148.1 L387.1,162.2 L381.1,179.2 L373.1,179.2 L368.1,177.2 L361.1,170.2 L355.1,164.2 L353.1,156.2 L355.1,148.1 L355.1,140.1 L354.1,128.1 L353.1,120.1 L343.1,124.1 L333.0,130.1 L329.0,140.1 L319.0,142.1 L315.0,136.1 L305.0,128.1 L307.0,120.1 L312.0,114.1Z" fill="#98d08e" stroke="#98d08e" stroke-opacity="1" stroke-width="1.4"/>
<path d="M353.1,120.1 L343.1,124.1 L333.0,130.1 L329.0,140.1 L319.0,142.1 L321.0,150.2 L313.0,154.2 L315.0,160.2 L321.0,170.2 L319.0,180.2 L317.0,193.0 L317.1,193.0 L311.1,205.0 L314.1,213.0 L323.1,214.0 L337.1,218.0 L351.2,223.0 L361.2,229.0 L363.2,219.0 L369.2,203.0 L373.2,193.0 L373.1,193.0 L373.1,179.2 L368.1,177.2 L361.1,170.2 L355.1,164.2 L353.1,156.2 L355.1,148.1 L355.1,140.1 L354.1,128.1Z" fill="#d0e7f3" stroke="#d0e7f3" stroke-opacity="1" stroke-width="1.4"/>
<path d="M285.2,115.1 L301.0,106.1 L299.0,109.1 L301.0,105.1 L310.0,111.1 L312.0,114.1 L307.0,120.1 L305.0,128.1 L315.0,136.1 L319.0,142.1 L321.0,150.2 L313.0,154.2 L315.0,160.2 L321.0,170.2 L319.0,180.2 L317.0,193.0 L317.1,193.0 L311.1,205.0 L314.1,213.0 L301.1,214.0 L285.1,228.6 L268.1,230.0 L263.1,221.0 L257.1,214.0 L258.1,205.0 L267.1,196.0 L271.1,193.0 L275.2,193.0 L277.2,180.2 L277.2,170.2 L282.2,160.2 L281.2,155.2 L274.2,150.2 L270.2,140.1 L273.2,130.1 L280.2,122.1Z" fill="#e4f1f8" stroke="#e4f1f8" stroke-opacity="1" stroke-width="1.4"/>
<path d="M186.5,138.1 L191.1,130.1 L195.1,114.1 L196.1,114.1 L210.1,116.1 L205.1,120.1 L208.1,125.1 L215.1,129.1 L221.1,124.1 L230.1,118.1 L232.1,110.1 L241.1,110.5 L259.2,108.7 L273.2,109.7 L282.2,112.1 L285.2,115.1 L280.2,122.1 L273.2,130.1 L270.2,140.1 L274.2,150.2 L281.2,155.2 L282.2,160.2 L277.2,170.2 L277.2,180.2 L275.2,193.0 L267.1,196.0 L258.1,205.0 L257.1,214.0 L241.0,212.0 L227.0,213.0 L231.0,195.0 L223.1,193.0 L217.1,189.2 L211.1,184.2 L207.1,176.2 L199.1,172.2 L187.1,174.2 L177.1,171.2 L175.1,164.2 L178.1,158.2 L178.7,152.2 L179.1,143.1Z" fill="#bdddec" stroke="#bdddec" stroke-opacity="1" stroke-width="1.4"/>
<path d="M225.1,86.1 L231.1,92.1 L233.1,88.1 L241.1,89.1 L247.2,92.1 L257.2,88.1 L269.2,96.1 L277.2,100.1 L282.2,112.1 L273.2,109.7 L259.2,108.7 L241.1,110.5 L232.1,110.1 L230.1,118.1 L221.1,124.1 L215.1,129.1 L208.1,125.1 L205.1,120.1 L210.1,116.1 L196.1,114.1 L201.1,108.1 L211.1,104.1 L219.1,104.1 L220.1,100.1 L217.1,96.1 L218.1,89.1Z" fill="#bdddec" stroke="#bdddec" stroke-opacity="1" stroke-width="1.4"/>
<path d="M197.1,52.1 L201.1,49.0 L211.1,60.1 L221.1,64.1 L221.1,68.1 L227.1,74.1 L232.1,80.1 L233.1,88.1 L231.1,92.1 L225.1,86.1 L218.1,89.1 L217.1,96.1 L220.1,100.1 L219.1,104.1 L211.1,104.1 L201.1,108.1 L195.1,114.1 L191.1,130.1 L186.5,138.1 L185.1,124.1 L184.1,112.1 L181.1,98.1 L175.1,85.1 L179.1,88.1 L189.1,84.1 L193.1,81.1 L196.1,88.1 L203.1,83.1 L200.1,70.1 L198.1,60.1Z" fill="#abdfa0" stroke="#abdfa0" stroke-opacity="1" stroke-width="1.4"/>
<path d="M201.1,49.0 L213.1,39.0 L231.1,25.0 L257.2,25.0 L258.2,37.0 L248.2,43.0 L248.2,53.1 L253.2,55.1 L269.2,50.1 L279.2,58.1 L265.2,64.1 L264.2,70.1 L258.2,80.1 L257.2,88.1 L247.2,92.1 L241.1,89.1 L233.1,88.1 L232.1,80.1 L227.1,74.1 L221.1,68.1 L221.1,64.1 L211.1,60.1Z" fill="#abdfa0" stroke="#abdfa0" stroke-opacity="1" stroke-width="1.4"/>
<path d="M231.1,9.0 L275.2,8.4 L293.0,18.0 L319.0,35.0 L317.0,60.1 L293.0,61.1 L295.2,61.1 L279.2,58.1 L269.2,50.1 L253.2,55.1 L248.2,53.1 L248.2,43.0 L258.2,37.0 L257.2,25.0 L231.1,25.0Z" fill="#98cf8d" stroke="#98cf8d" stroke-opacity="1" stroke-width="1.4"/>
<path d="M279.2,58.1 L295.2,61.1 L317.0,60.1 L316.0,75.1 L306.0,76.1 L305.0,96.1 L301.0,105.1 L299.0,109.1 L301.0,106.1 L285.2,115.1 L282.2,112.1 L277.2,100.1 L269.2,96.1 L257.2,88.1 L258.2,80.1 L264.2,70.1 L265.2,64.1Z" fill="#d3eed0" stroke="#d3eed0" stroke-opacity="1" stroke-width="1.4"/>
<path d="M319.0,35.0 L345.1,49.2 L373.1,64.5 L387.1,72.1 L381.1,75.1 L374.1,78.1 L377.1,84.1 L381.1,89.1 L380.1,95.1 L372.1,99.1 L361.1,102.1 L357.1,103.1 L349.1,98.1 L341.0,99.1 L340.0,94.1 L336.0,95.1 L334.0,106.1 L331.0,106.1 L330.0,99.1 L323.0,101.1 L315.0,108.1 L310.0,111.1 L301.0,105.1 L305.0,96.1 L306.0,76.1 L316.0,75.1 L317.0,60.1Z" fill="#77b577" stroke="#77b577" stroke-opacity="1" stroke-width="1.4"/>
<path d="M387.1,72.1 L397.1,77.1 L402.1,81.1 L403.1,88.1 L399.1,93.1 L405.1,96.1 L417.1,108.1 L427.1,117.1 L415.1,133.1 L405.1,132.1 L397.1,126.1 L395.1,118.1 L395.1,110.1 L391.1,100.1 L388.1,95.1 L380.1,95.1 L381.1,89.1 L377.1,84.1 L374.1,78.1 L381.1,75.1Z" fill="#579a65" stroke="#579a65" stroke-opacity="1" stroke-width="1.4"/>
<path d="M469.2,249.1 L478.2,239.0 L479.6,242.0 L474.8,252.1Z" fill="#d6efd3" stroke="#d6efd3" stroke-opacity="1" stroke-width="0.2"/>
<path d="M457.9,172.2 L459.5,173.4 L460.4,179.6 L461.7,182.7 L454.2,182.7 L453.3,180.9 L455.4,177.8 L457.0,176.5 L457.3,172.8Z" fill="#4a8c60" stroke="#4a8c60" stroke-opacity="1" stroke-width="0.2"/>
<path d="M471.0,144.2 L477.8,144.2 L477.8,154.1 L476.9,157.9 L474.1,162.9 L468.2,162.9 L467.6,161.6 L469.7,160.4 L471.0,154.8 L469.1,154.5 L471.0,153.5Z" fill="#4e9563" stroke="#4e9563" stroke-opacity="1" stroke-width="0.2"/>
<path d="M153.1,10.4 L162.1,8.4 L231.1,9.0 L231.1,25.0 L213.1,39.0 L201.1,49.0 L197.1,52.1 L198.1,60.1 L200.1,70.1 L203.1,83.1 L196.1,88.1 L193.1,81.1 L189.1,84.1 L179.1,88.1 L175.1,85.1 L173.1,75.1 L170.1,73.7 L167.1,77.1 L161.1,74.1 L157.1,76.1 L153.1,75.1 L151.7,69.1 L155.1,64.1 L153.1,60.1 L161.1,57.1 L166.1,53.1 L167.5,46.0 L165.1,40.0 L164.1,32.0 L163.1,26.0 L157.1,18.0Z" fill="none"/>
<path d="M153.1,75.1 L157.1,76.1 L161.1,74.1 L167.1,77.1 L170.1,73.7 L173.1,75.1 L175.1,85.1 L181.1,98.1 L184.1,112.1 L185.1,124.1 L186.5,138.1 L179.1,143.1 L178.7,152.2 L178.1,158.2 L175.1,164.2 L167.1,159.2 L159.1,156.2 L151.1,155.2 L136.0,159.2 L141.0,170.2 L146.1,184.2 L151.1,193.0 L150.1,196.0 L137.8,208.5 L130.3,203.7 L124.7,197.5 L120.6,188.8 L119.7,178.9 L123.5,172.7 L124.1,167.7 L119.7,157.7 L116.6,149.0 L115.1,139.1 L116.6,127.9 L117.0,128.1 L129.0,127.1 L143.1,114.1 L153.1,100.1 L161.1,90.1 L165.1,85.1 L163.1,80.1Z" fill="none"/>
<path d="M136.0,159.2 L151.1,155.2 L159.1,156.2 L167.1,159.2 L175.1,164.2 L177.1,171.2 L187.1,174.2 L199.1,172.2 L207.1,176.2 L211.1,184.2 L217.1,189.2 L223.1,193.0 L231.1,195.0 L229.1,205.0 L227.1,213.0 L226.1,219.0 L215.1,226.0 L207.1,241.0 L201.1,242.0 L193.1,236.0 L187.1,234.0 L181.1,226.0 L175.1,221.0 L168.1,217.0 L157.1,213.0 L147.1,216.0 L138.0,207.0 L150.1,196.0 L151.1,193.0 L146.1,184.2 L141.0,170.2Z" fill="none"/>
<path d="M147.1,216.0 L157.1,213.0 L168.1,217.0 L175.1,221.0 L181.1,226.0 L187.1,234.0 L193.1,236.0 L201.1,242.0 L207.1,241.0 L213.1,246.1 L222.1,256.1 L218.1,262.1 L217.1,269.1 L211.1,275.1 L209.1,281.1 L211.1,287.1 L205.1,287.1 L199.1,283.1 L191.1,279.1 L183.1,273.1 L175.1,272.1 L167.1,263.1 L159.1,251.1 L153.1,239.0 L150.1,227.0Z" fill="none"/>
<path d="M207.0,241.0 L215.0,226.0 L226.0,219.0 L227.0,213.0 L241.0,212.0 L257.1,214.0 L263.1,221.0 L268.1,230.0 L285.1,228.6 L289.1,236.0 L302.1,242.0 L308.1,251.1 L302.1,262.1 L297.1,270.1 L297.1,275.1 L281.1,281.1 L268.1,287.1 L272.1,293.1 L277.1,303.1 L273.1,309.1 L263.1,307.1 L253.1,304.1 L239.0,299.1 L223.0,291.1 L211.0,287.1 L209.0,281.1 L211.0,275.1 L217.0,269.1 L218.0,262.1 L222.0,256.1 L213.0,246.1Z" fill="none"/>
<path d="M285.1,228.6 L301.1,214.0 L313.1,213.0 L323.1,214.0 L337.1,218.0 L351.2,223.0 L361.2,229.0 L367.2,235.0 L377.2,239.0 L373.2,248.1 L359.2,250.1 L353.2,257.1 L343.2,263.1 L337.1,271.1 L333.1,279.1 L331.1,276.1 L322.1,276.1 L321.1,286.1 L315.1,286.1 L313.1,281.1 L305.1,276.1 L297.1,275.1 L297.1,270.1 L302.1,262.1 L308.1,251.1 L302.1,242.0 L289.1,236.0Z" fill="none"/>
<path d="M268.1,287.1 L281.1,281.1 L297.1,275.1 L305.1,276.1 L313.1,281.1 L315.1,286.1 L321.1,286.1 L333.1,296.1 L315.1,313.1 L316.1,322.1 L301.1,337.1 L295.1,339.1 L293.1,321.1 L287.1,313.1 L277.1,303.1 L272.1,293.1Z" fill="none"/>
<path d="M295.1,339.1 L301.1,337.1 L316.1,322.1 L315.1,313.1 L333.1,296.1 L341.1,295.1 L341.1,305.1 L333.1,314.1 L337.1,317.1 L353.2,311.1 L360.2,308.1 L362.2,317.1 L367.2,318.1 L383.2,305.1 L374.2,319.1 L374.2,327.1 L401.1,338.1 L409.1,341.1 L413.1,349.2 L416.1,364.2 L405.1,367.2 L402.1,374.2 L393.1,378.2 L381.1,376.2 L373.1,378.2 L363.1,381.2 L353.1,380.2 L349.1,376.2 L337.0,372.2 L323.0,376.2 L308.0,375.2 L302.1,365.2 L297.1,351.2Z" fill="none"/>
<path d="M373.1,178.8 L381.1,178.8 L385.1,181.2 L393.1,175.8 L407.1,177.8 L413.1,188.2 L413.1,193.0 L414.1,201.0 L423.1,206.0 L425.1,214.0 L431.1,218.0 L425.1,223.0 L424.1,235.0 L413.1,236.0 L407.1,251.1 L401.1,257.1 L393.1,269.1 L390.1,289.1 L383.1,305.1 L367.1,318.1 L362.1,317.1 L360.1,308.1 L353.1,311.1 L337.0,317.1 L333.0,314.1 L341.0,305.1 L341.0,295.1 L333.0,296.1 L321.0,286.1 L322.0,276.1 L331.0,276.1 L333.0,279.1 L337.0,271.1 L343.1,263.1 L353.1,257.1 L359.1,250.1 L373.1,248.1 L377.1,239.0 L367.1,235.0 L361.1,229.0 L363.1,219.0 L369.1,203.0 L373.1,193.0Z" fill="none"/>
<path d="M374.1,327.1 L374.1,319.1 L383.1,305.1 L390.1,289.1 L393.1,269.1 L401.1,257.1 L407.1,251.1 L421.1,259.1 L434.1,264.1 L457.2,261.1 L460.2,271.1 L464.2,281.1 L467.2,291.1 L469.2,301.1 L474.2,313.1 L480.2,325.1 L473.2,333.1 L470.2,341.1 L469.2,332.1 L461.2,333.1 L453.2,336.1 L441.1,340.1 L429.1,343.2 L413.1,349.2 L409.1,341.1 L401.1,338.1Z" fill="none"/>
<path d="M413.1,349.2 L429.1,343.2 L441.1,340.1 L453.2,336.1 L461.2,333.1 L469.2,332.1 L470.2,341.1 L473.2,333.1 L480.2,325.1 L488.2,330.1 L497.2,333.1 L493.2,341.1 L481.2,349.2 L469.2,355.2 L453.2,361.2 L441.1,365.2 L429.1,370.2 L421.1,367.2 L416.1,364.2Z" fill="none"/>
<path d="M408.1,177.8 L421.1,178.2 L431.1,182.2 L442.1,181.2 L443.2,187.2 L443.2,193.0 L447.2,199.0 L451.2,205.0 L451.2,216.0 L461.2,213.0 L463.2,219.0 L459.2,229.0 L458.2,239.0 L463.2,247.1 L459.2,251.1 L457.2,261.1 L434.1,264.1 L421.1,259.1 L407.1,251.1 L413.1,236.0 L424.1,235.0 L425.1,223.0 L431.1,218.0 L425.1,214.0 L423.1,206.0 L414.1,201.0 L413.1,193.0 L413.1,188.2Z" fill="none"/>
<path d="M427.1,117.1 L455.2,136.1 L454.2,144.1 L451.2,156.2 L448.2,166.2 L443.2,176.2 L442.1,181.2 L431.1,182.2 L421.1,178.2 L409.1,178.2 L407.1,177.2 L393.1,175.8 L385.1,181.2 L381.1,179.2 L387.1,162.2 L397.1,148.1 L414.1,145.1 L414.1,134.1 L415.1,133.1Z" fill="none"/>
<path d="M310.0,111.1 L315.0,108.1 L323.0,101.1 L330.0,99.1 L331.0,106.1 L334.0,106.1 L336.0,95.1 L340.0,94.1 L341.0,99.1 L349.1,98.1 L357.1,103.1 L361.1,102.1 L372.1,99.1 L380.1,95.1 L388.1,95.1 L391.1,100.1 L395.1,110.1 L395.1,118.1 L397.1,126.1 L405.1,132.1 L414.1,134.1 L414.1,145.1 L397.1,148.1 L387.1,162.2 L381.1,179.2 L373.1,179.2 L368.1,177.2 L361.1,170.2 L355.1,164.2 L353.1,156.2 L355.1,148.1 L355.1,140.1 L354.1,128.1 L353.1,120.1 L343.1,124.1 L333.0,130.1 L329.0,140.1 L319.0,142.1 L315.0,136.1 L305.0,128.1 L307.0,120.1 L312.0,114.1Z" fill="none"/>
<path d="M353.1,120.1 L343.1,124.1 L333.0,130.1 L329.0,140.1 L319.0,142.1 L321.0,150.2 L313.0,154.2 L315.0,160.2 L321.0,170.2 L319.0,180.2 L317.0,193.0 L317.1,193.0 L311.1,205.0 L314.1,213.0 L323.1,214.0 L337.1,218.0 L351.2,223.0 L361.2,229.0 L363.2,219.0 L369.2,203.0 L373.2,193.0 L373.1,193.0 L373.1,179.2 L368.1,177.2 L361.1,170.2 L355.1,164.2 L353.1,156.2 L355.1,148.1 L355.1,140.1 L354.1,128.1Z" fill="none"/>
<path d="M285.2,115.1 L301.0,106.1 L299.0,109.1 L301.0,105.1 L310.0,111.1 L312.0,114.1 L307.0,120.1 L305.0,128.1 L315.0,136.1 L319.0,142.1 L321.0,150.2 L313.0,154.2 L315.0,160.2 L321.0,170.2 L319.0,180.2 L317.0,193.0 L317.1,193.0 L311.1,205.0 L314.1,213.0 L301.1,214.0 L285.1,228.6 L268.1,230.0 L263.1,221.0 L257.1,214.0 L258.1,205.0 L267.1,196.0 L271.1,193.0 L275.2,193.0 L277.2,180.2 L277.2,170.2 L282.2,160.2 L281.2,155.2 L274.2,150.2 L270.2,140.1 L273.2,130.1 L280.2,122.1Z" fill="none"/>
<path d="M186.5,138.1 L191.1,130.1 L195.1,114.1 L196.1,114.1 L210.1,116.1 L205.1,120.1 L208.1,125.1 L215.1,129.1 L221.1,124.1 L230.1,118.1 L232.1,110.1 L241.1,110.5 L259.2,108.7 L273.2,109.7 L282.2,112.1 L285.2,115.1 L280.2,122.1 L273.2,130.1 L270.2,140.1 L274.2,150.2 L281.2,155.2 L282.2,160.2 L277.2,170.2 L277.2,180.2 L275.2,193.0 L267.1,196.0 L258.1,205.0 L257.1,214.0 L241.0,212.0 L227.0,213.0 L231.0,195.0 L223.1,193.0 L217.1,189.2 L211.1,184.2 L207.1,176.2 L199.1,172.2 L187.1,174.2 L177.1,171.2 L175.1,164.2 L178.1,158.2 L178.7,152.2 L179.1,143.1Z" fill="none"/>
<path d="M225.1,86.1 L231.1,92.1 L233.1,88.1 L241.1,89.1 L247.2,92.1 L257.2,88.1 L269.2,96.1 L277.2,100.1 L282.2,112.1 L273.2,109.7 L259.2,108.7 L241.1,110.5 L232.1,110.1 L230.1,118.1 L221.1,124.1 L215.1,129.1 L208.1,125.1 L205.1,120.1 L210.1,116.1 L196.1,114.1 L201.1,108.1 L211.1,104.1 L219.1,104.1 L220.1,100.1 L217.1,96.1 L218.1,89.1Z" fill="none"/>
<path d="M197.1,52.1 L201.1,49.0 L211.1,60.1 L221.1,64.1 L221.1,68.1 L227.1,74.1 L232.1,80.1 L233.1,88.1 L231.1,92.1 L225.1,86.1 L218.1,89.1 L217.1,96.1 L220.1,100.1 L219.1,104.1 L211.1,104.1 L201.1,108.1 L195.1,114.1 L191.1,130.1 L186.5,138.1 L185.1,124.1 L184.1,112.1 L181.1,98.1 L175.1,85.1 L179.1,88.1 L189.1,84.1 L193.1,81.1 L196.1,88.1 L203.1,83.1 L200.1,70.1 L198.1,60.1Z" fill="none"/>
<path d="M201.1,49.0 L213.1,39.0 L231.1,25.0 L257.2,25.0 L258.2,37.0 L248.2,43.0 L248.2,53.1 L253.2,55.1 L269.2,50.1 L279.2,58.1 L265.2,64.1 L264.2,70.1 L258.2,80.1 L257.2,88.1 L247.2,92.1 L241.1,89.1 L233.1,88.1 L232.1,80.1 L227.1,74.1 L221.1,68.1 L221.1,64.1 L211.1,60.1Z" fill="none"/>
<path d="M231.1,9.0 L275.2,8.4 L293.0,18.0 L319.0,35.0 L317.0,60.1 L293.0,61.1 L295.2,61.1 L279.2,58.1 L269.2,50.1 L253.2,55.1 L248.2,53.1 L248.2,43.0 L258.2,37.0 L257.2,25.0 L231.1,25.0Z" fill="none"/>
<path d="M279.2,58.1 L295.2,61.1 L317.0,60.1 L316.0,75.1 L306.0,76.1 L305.0,96.1 L301.0,105.1 L299.0,109.1 L301.0,106.1 L285.2,115.1 L282.2,112.1 L277.2,100.1 L269.2,96.1 L257.2,88.1 L258.2,80.1 L264.2,70.1 L265.2,64.1Z" fill="none"/>
<path d="M319.0,35.0 L345.1,49.2 L373.1,64.5 L387.1,72.1 L381.1,75.1 L374.1,78.1 L377.1,84.1 L381.1,89.1 L380.1,95.1 L372.1,99.1 L361.1,102.1 L357.1,103.1 L349.1,98.1 L341.0,99.1 L340.0,94.1 L336.0,95.1 L334.0,106.1 L331.0,106.1 L330.0,99.1 L323.0,101.1 L315.0,108.1 L310.0,111.1 L301.0,105.1 L305.0,96.1 L306.0,76.1 L316.0,75.1 L317.0,60.1Z" fill="none"/>
<path d="M387.1,72.1 L397.1,77.1 L402.1,81.1 L403.1,88.1 L399.1,93.1 L405.1,96.1 L417.1,108.1 L427.1,117.1 L415.1,133.1 L405.1,132.1 L397.1,126.1 L395.1,118.1 L395.1,110.1 L391.1,100.1 L388.1,95.1 L380.1,95.1 L381.1,89.1 L377.1,84.1 L374.1,78.1 L381.1,75.1Z" fill="none"/>
<path d="M469.2,249.1 L478.2,239.0 L479.6,242.0 L474.8,252.1Z" fill="none"/>
<path d="M457.9,172.2 L459.5,173.4 L460.4,179.6 L461.7,182.7 L454.2,182.7 L453.3,180.9 L455.4,177.8 L457.0,176.5 L457.3,172.8Z" fill="none"/>
<path d="M471.0,144.2 L477.8,144.2 L477.8,154.1 L476.9,157.9 L474.1,162.9 L468.2,162.9 L467.6,161.6 L469.7,160.4 L471.0,154.8 L469.1,154.5 L471.0,153.5Z" fill="none"/>
</g>
<path d="M451.7,201.8 L456.9,206.3 L462.6,212.0 L463.7,216.0 L456.9,213.2 L452.3,216.6 L449.4,215.5 L451.2,210.9 L448.9,207.5Z" fill="#ebebeb" stroke="#f4f4f4" stroke-width="0.8"/>
<path d="M153.1,10.4 L162.1,8.4 L275.2,8.4 L319.0,35.0 L387.1,72.1 L397.1,77.1 L402.1,81.1 L403.1,88.1 L399.1,93.1 L405.1,96.1 L417.1,108.1 L427.1,117.1 L455.2,136.1" fill="none" stroke="#7f877f" stroke-width="1.1" stroke-linejoin="round"/>
<path d="M153.1,10.4 L157.1,18.0 L163.1,26.0 L164.1,32.0 L165.1,40.0 L167.5,46.0 L166.1,53.1 L161.1,57.1 L153.1,60.1 L155.1,64.1 L151.7,69.1 L153.1,75.1 L163.1,80.1 L165.1,85.1 L161.1,90.1 L153.1,100.1 L143.1,114.1 L129.0,127.1 L117.0,128.1" fill="none" stroke="#8f8f8f" stroke-width="1.5" stroke-linejoin="round"/>
<path d="M116.6,127.9 L115.1,139.1 L116.6,149.0 L119.7,157.7 L124.1,167.7 L123.5,172.7 L119.7,178.9 L120.6,188.8 L124.7,197.5 L130.3,203.7 L137.8,208.5 L147.1,216.0 L150.1,227.0 L153.1,239.0 L159.1,251.1 L162.1,256.7" fill="none" stroke="#8f8f8f" stroke-width="1.1" stroke-linejoin="round"/>
<path d="M162.1,256.7 L167.1,263.1 L175.1,272.1 L183.1,273.1 L191.1,279.1 L199.1,283.1 L205.1,287.1 L211.1,287.1 L211.0,287.1 L223.0,291.1 L239.0,299.1 L253.1,304.1 L263.1,307.1 L273.1,309.1 L277.1,303.1" fill="none" stroke="#8f8f8f" stroke-width="0.9" stroke-linejoin="round" stroke-opacity="0.8"/>
<text x="251.3" y="173" font-family="Liberation Sans, sans-serif" font-size="11.5" fill="#9db2bc" fill-opacity="0.5" letter-spacing="1.3">Tanzania</text>
<text x="2" y="289" font-family="Liberation Sans, sans-serif" font-size="11" fill="#b5b5b5">nga</text>
</svg><div class="t" style="left:0px;top:374px;width:147.5px;height:14px;background:rgba(255,255,255,0.6);"></div><div class="t" id="osm" style="left:2px;top:375px;font-size:10.6px;color:#707070;letter-spacing:0px;">© OpenStreetMap contributors</div></div><div id="mapborder"></div>
<div class="t h1" style="left:17.3px;top:475px;letter-spacing:0.38px;">Distribution of Smallholder Criteria</div>
<div class="para" style="top:509.60px;left:17.4px;letter-spacing:0.053px">The histograms below show the</div>
<div class="para" style="top:509.60px;left:211.2px;letter-spacing:0.245px">distribution of households along each of the criteria above.</div>
<div class="para" style="top:509.60px;left:576.8px;letter-spacing:0.219px">The colors represent the proportion of each bucket</div>
<div class="para" style="top:524.45px;left:17.4px;letter-spacing:0.192px">which is made up of smallholder</div>
<div class="para" style="top:524.45px;left:216.6px;letter-spacing:0.266px">farmers based on a particular definition. The underlying</div>
<div class="para" style="top:524.45px;left:561.8px;letter-spacing:0.337px">distribution will not change as your definition of a</div>
<div class="para" style="top:539.30px;left:17.4px;letter-spacing:0.188px">smallholder farm changes, but</div>
<div class="para" style="top:539.30px;left:205.8px;letter-spacing:0.290px">the colors will change to represent the percent of smallholder</div>
<div class="para" style="top:539.30px;left:587.8px;letter-spacing:0.324px">in a particular category. If a particular bar is</div>
<div class="para" style="top:554.15px;left:17.4px;letter-spacing:0.321px">completely green, that indicates</div>
<div class="para" style="top:554.15px;left:219.6px;letter-spacing:0.401px">that all of the farmers in that bin of the histogram</div>
<div class="para" style="top:554.15px;left:530.2px;letter-spacing:0.249px">are classified as smallholders by the definition set in the</div>
<div class="para" style="top:569.00px;left:17.4px;letter-spacing:0.248px">parameters above. If a particular</div>
<div class="para" style="top:569.00px;left:223.2px;letter-spacing:0.386px">bar is completely blue, that indicates that all of the</div>
<div class="para" style="top:569.00px;left:542.7px;letter-spacing:0.277px">farmers in that bin of the histogram are largeholders by</div>
<div class="para" style="top:583.85px;left:17.4px;letter-spacing:0.290px">the definition set in the parameters above.</div>
<div class="t lg" style="left:893.5px;top:504px;">Smallholder Farm</div>
<div style="position:absolute;left:896.3px;top:519.6px;width:11.2px;height:11.2px;background:#4e79a7;border:0.6px solid #dcdcdc"></div>
<div style="position:absolute;left:896.3px;top:537.7px;width:11.2px;height:11.2px;background:#59a14f;border:0.6px solid #dcdcdc"></div>
<div class="t lg" style="left:913.5px;top:521px;">Largeholder</div>
<div class="t lg" style="left:913.5px;top:539px;">Smallholder</div>
<div class="t ct" style="left:17.5px;top:624px;letter-spacing:-0.35px;">Farm Size (Ha)</div>
<div class="t ct" style="left:528px;top:624px;">Proportion of Crop Sold</div>
<svg style="position:absolute;left:0;top:0" width="1039" height="965" viewBox="0 0 1039 965"><line x1="123.5" y1="647" x2="123.5" y2="910.8" stroke="#f3f3f3" stroke-width="1"/><line x1="173.5" y1="647" x2="173.5" y2="910.8" stroke="#f3f3f3" stroke-width="1"/><line x1="223.5" y1="647" x2="223.5" y2="910.8" stroke="#f3f3f3" stroke-width="1"/><line x1="273.5" y1="647" x2="273.5" y2="910.8" stroke="#f3f3f3" stroke-width="1"/><line x1="323.5" y1="647" x2="323.5" y2="910.8" stroke="#f3f3f3" stroke-width="1"/><line x1="373.5" y1="647" x2="373.5" y2="910.8" stroke="#f3f3f3" stroke-width="1"/><line x1="423.5" y1="647" x2="423.5" y2="910.8" stroke="#f3f3f3" stroke-width="1"/><line x1="473.5" y1="647" x2="473.5" y2="910.8" stroke="#f3f3f3" stroke-width="1"/><line x1="73.5" y1="683.50" x2="520" y2="683.50" stroke="#f3f3f3" stroke-width="1"/><line x1="73.5" y1="759.40" x2="520" y2="759.40" stroke="#f3f3f3" stroke-width="1"/><line x1="73.5" y1="836.25" x2="520" y2="836.25" stroke="#f3f3f3" stroke-width="1"/><line x1="73.5" y1="647" x2="73.5" y2="915.8" stroke="#e9e9e9" stroke-width="1"/><line x1="73.5" y1="911.1999999999999" x2="520" y2="911.1999999999999" stroke="#e9e9e9" stroke-width="1"/><line x1="123.5" y1="910.8" x2="123.5" y2="915.8" stroke="#e9e9e9" stroke-width="1"/><line x1="173.5" y1="910.8" x2="173.5" y2="915.8" stroke="#e9e9e9" stroke-width="1"/><line x1="223.5" y1="910.8" x2="223.5" y2="915.8" stroke="#e9e9e9" stroke-width="1"/><line x1="273.5" y1="910.8" x2="273.5" y2="915.8" stroke="#e9e9e9" stroke-width="1"/><line x1="323.5" y1="910.8" x2="323.5" y2="915.8" stroke="#e9e9e9" stroke-width="1"/><line x1="373.5" y1="910.8" x2="373.5" y2="915.8" stroke="#e9e9e9" stroke-width="1"/><line x1="423.5" y1="910.8" x2="423.5" y2="915.8" stroke="#e9e9e9" stroke-width="1"/><line x1="473.5" y1="910.8" x2="473.5" y2="915.8" stroke="#e9e9e9" stroke-width="1"/><rect x="73.45" y="660.30" width="12.60" height="250.50" fill="#c9dac6"/><rect x="74.05" y="660.90" width="11.40" height="249.90" fill="#59a14f"/><rect x="85.95" y="776.90" width="12.60" height="133.90" fill="#c9dac6"/><rect x="86.55" y="777.50" width="11.40" height="133.30" fill="#59a14f"/><rect x="98.45" y="824.40" width="12.60" height="86.40" fill="#c9dac6"/><rect x="99.05" y="825.00" width="11.40" height="85.80" fill="#59a14f"/><rect x="110.95" y="851.20" width="12.60" height="59.60" fill="#c9dac6"/><rect x="111.55" y="851.80" width="11.40" height="59.00" fill="#59a14f"/><rect x="123.45" y="866.50" width="12.60" height="44.30" fill="#c3cfdd"/><rect x="124.05" y="867.10" width="11.40" height="43.70" fill="#4e79a7"/><rect x="135.95" y="880.80" width="12.60" height="30.00" fill="#c3cfdd"/><rect x="136.55" y="881.40" width="11.40" height="29.40" fill="#4e79a7"/><rect x="148.45" y="884.50" width="12.60" height="26.30" fill="#c3cfdd"/><rect x="149.05" y="885.10" width="11.40" height="25.70" fill="#4e79a7"/><rect x="160.95" y="887.00" width="12.60" height="23.80" fill="#c3cfdd"/><rect x="161.55" y="887.60" width="11.40" height="23.20" fill="#4e79a7"/><rect x="173.45" y="895.80" width="12.60" height="15.00" fill="#c3cfdd"/><rect x="174.05" y="896.40" width="11.40" height="14.40" fill="#4e79a7"/><rect x="185.95" y="900.10" width="12.60" height="10.70" fill="#c3cfdd"/><rect x="186.55" y="900.70" width="11.40" height="10.10" fill="#4e79a7"/><rect x="198.45" y="903.10" width="12.60" height="7.70" fill="#c3cfdd"/><rect x="199.05" y="903.70" width="11.40" height="7.10" fill="#4e79a7"/><rect x="210.95" y="903.10" width="12.60" height="7.70" fill="#c3cfdd"/><rect x="211.55" y="903.70" width="11.40" height="7.10" fill="#4e79a7"/><rect x="223.45" y="902.30" width="12.60" height="8.50" fill="#c3cfdd"/><rect x="224.05" y="902.90" width="11.40" height="7.90" fill="#4e79a7"/><rect x="235.95" y="907.10" width="12.60" height="3.70" fill="#c3cfdd"/><rect x="236.55" y="907.70" width="11.40" height="3.10" fill="#4e79a7"/><rect x="248.45" y="907.10" width="12.60" height="3.70" fill="#c3cfdd"/><rect x="249.05" y="907.70" width="11.40" height="3.10" fill="#4e79a7"/><rect x="260.95" y="908.80" width="12.60" height="2.00" fill="#c3cfdd"/><rect x="261.55" y="909.40" width="11.40" height="1.40" fill="#4e79a7"/><rect x="273.45" y="907.60" width="12.60" height="3.20" fill="#c3cfdd"/><rect x="274.05" y="908.20" width="11.40" height="2.60" fill="#4e79a7"/><rect x="285.95" y="906.40" width="12.60" height="4.40" fill="#c3cfdd"/><rect x="286.55" y="907.00" width="11.40" height="3.80" fill="#4e79a7"/><rect x="299.05" y="909.80" width="11.40" height="1" fill="#4e79a7" fill-opacity="0.60"/><rect x="311.55" y="909.80" width="11.40" height="1" fill="#4e79a7" fill-opacity="0.60"/><rect x="323.45" y="908.50" width="12.60" height="2.30" fill="#c3cfdd"/><rect x="324.05" y="909.10" width="11.40" height="1.70" fill="#4e79a7"/><rect x="336.55" y="909.80" width="11.40" height="1" fill="#4e79a7" fill-opacity="0.60"/><rect x="349.05" y="909.80" width="11.40" height="1" fill="#4e79a7" fill-opacity="0.60"/><rect x="361.55" y="909.80" width="11.40" height="1" fill="#4e79a7" fill-opacity="0.30"/><rect x="373.45" y="908.50" width="12.60" height="2.30" fill="#c3cfdd"/><rect x="374.05" y="909.10" width="11.40" height="1.70" fill="#4e79a7"/><rect x="386.55" y="909.80" width="11.40" height="1" fill="#4e79a7" fill-opacity="0.30"/><rect x="399.05" y="909.80" width="11.40" height="1" fill="#4e79a7" fill-opacity="0.70"/><rect x="411.55" y="909.80" width="11.40" height="1" fill="#4e79a7" fill-opacity="0.30"/><rect x="436.55" y="909.80" width="11.40" height="1" fill="#4e79a7" fill-opacity="0.70"/><rect x="449.05" y="909.80" width="11.40" height="1" fill="#4e79a7" fill-opacity="0.35"/><rect x="485.95" y="898.60" width="12.60" height="12.20" fill="#c3cfdd"/><rect x="486.55" y="899.20" width="11.40" height="11.60" fill="#4e79a7"/><line x1="622.20" y1="647" x2="622.20" y2="915.9" stroke="#f3f3f3" stroke-width="1"/><line x1="660.90" y1="647" x2="660.90" y2="915.9" stroke="#f3f3f3" stroke-width="1"/><line x1="699.60" y1="647" x2="699.60" y2="915.9" stroke="#f3f3f3" stroke-width="1"/><line x1="738.30" y1="647" x2="738.30" y2="915.9" stroke="#f3f3f3" stroke-width="1"/><line x1="777.00" y1="647" x2="777.00" y2="915.9" stroke="#f3f3f3" stroke-width="1"/><line x1="815.70" y1="647" x2="815.70" y2="915.9" stroke="#f3f3f3" stroke-width="1"/><line x1="854.40" y1="647" x2="854.40" y2="915.9" stroke="#f3f3f3" stroke-width="1"/><line x1="893.10" y1="647" x2="893.10" y2="915.9" stroke="#f3f3f3" stroke-width="1"/><line x1="931.80" y1="647" x2="931.80" y2="915.9" stroke="#f3f3f3" stroke-width="1"/><line x1="970.50" y1="647" x2="970.50" y2="915.9" stroke="#f3f3f3" stroke-width="1"/><line x1="1009.20" y1="647" x2="1009.20" y2="915.9" stroke="#f3f3f3" stroke-width="1"/><line x1="583.5" y1="865.2" x2="1030" y2="865.2" stroke="#f3f3f3" stroke-width="1"/><line x1="583.5" y1="818.5" x2="1030" y2="818.5" stroke="#f3f3f3" stroke-width="1"/><line x1="583.5" y1="771.8" x2="1030" y2="771.8" stroke="#f3f3f3" stroke-width="1"/><line x1="583.5" y1="725.1" x2="1030" y2="725.1" stroke="#f3f3f3" stroke-width="1"/><line x1="583.5" y1="678.4" x2="1030" y2="678.4" stroke="#f3f3f3" stroke-width="1"/><line x1="583.5" y1="647" x2="583.5" y2="915.9" stroke="#e9e9e9" stroke-width="1"/><line x1="583.5" y1="911.3" x2="1030" y2="911.3" stroke="#e9e9e9" stroke-width="1"/><rect x="583.40" y="660.65" width="38.60" height="57.00" fill="#c3cfdd"/><rect x="584.00" y="661.25" width="37.40" height="56.40" fill="#4e79a7"/><rect x="583.40" y="718.25" width="38.60" height="192.65" fill="#c9dac6"/><rect x="584.00" y="718.85" width="37.40" height="192.05" fill="#59a14f"/><rect x="622.10" y="830.20" width="38.60" height="24.70" fill="#c3cfdd"/><rect x="622.70" y="830.80" width="37.40" height="24.10" fill="#4e79a7"/><rect x="622.10" y="855.50" width="38.60" height="55.40" fill="#c9dac6"/><rect x="622.70" y="856.10" width="37.40" height="54.80" fill="#59a14f"/><rect x="660.80" y="838.20" width="38.60" height="20.20" fill="#c3cfdd"/><rect x="661.40" y="838.80" width="37.40" height="19.60" fill="#4e79a7"/><rect x="660.80" y="859.00" width="38.60" height="51.90" fill="#c9dac6"/><rect x="661.40" y="859.60" width="37.40" height="51.30" fill="#59a14f"/><rect x="699.50" y="845.90" width="38.60" height="27.75" fill="#c3cfdd"/><rect x="700.10" y="846.50" width="37.40" height="27.15" fill="#4e79a7"/><rect x="699.50" y="874.25" width="38.60" height="36.65" fill="#c9dac6"/><rect x="700.10" y="874.85" width="37.40" height="36.05" fill="#59a14f"/><rect x="738.20" y="837.90" width="38.60" height="27.00" fill="#c3cfdd"/><rect x="738.80" y="838.50" width="37.40" height="26.40" fill="#4e79a7"/><rect x="738.20" y="865.50" width="38.60" height="45.40" fill="#c9dac6"/><rect x="738.80" y="866.10" width="37.40" height="44.80" fill="#59a14f"/><rect x="776.90" y="835.70" width="38.60" height="27.10" fill="#c3cfdd"/><rect x="777.50" y="836.30" width="37.40" height="26.50" fill="#4e79a7"/><rect x="776.90" y="863.40" width="38.60" height="47.50" fill="#c9dac6"/><rect x="777.50" y="864.00" width="37.40" height="46.90" fill="#59a14f"/><rect x="815.60" y="841.70" width="38.60" height="23.90" fill="#c3cfdd"/><rect x="816.20" y="842.30" width="37.40" height="23.30" fill="#4e79a7"/><rect x="815.60" y="866.20" width="38.60" height="44.70" fill="#c9dac6"/><rect x="816.20" y="866.80" width="37.40" height="44.10" fill="#59a14f"/><rect x="854.30" y="856.00" width="38.60" height="23.80" fill="#c3cfdd"/><rect x="854.90" y="856.60" width="37.40" height="23.20" fill="#4e79a7"/><rect x="854.30" y="880.40" width="38.60" height="30.50" fill="#c9dac6"/><rect x="854.90" y="881.00" width="37.40" height="29.90" fill="#59a14f"/><rect x="893.00" y="856.00" width="38.60" height="22.00" fill="#c3cfdd"/><rect x="893.60" y="856.60" width="37.40" height="21.40" fill="#4e79a7"/><rect x="893.00" y="878.60" width="38.60" height="32.30" fill="#c9dac6"/><rect x="893.60" y="879.20" width="37.40" height="31.70" fill="#59a14f"/><rect x="931.70" y="883.20" width="38.60" height="10.30" fill="#c3cfdd"/><rect x="932.30" y="883.80" width="37.40" height="9.70" fill="#4e79a7"/><rect x="931.70" y="894.10" width="38.60" height="16.80" fill="#c9dac6"/><rect x="932.30" y="894.70" width="37.40" height="16.20" fill="#59a14f"/><rect x="970.40" y="810.70" width="38.60" height="59.50" fill="#c3cfdd"/><rect x="971.00" y="811.30" width="37.40" height="58.90" fill="#4e79a7"/><rect x="970.40" y="870.80" width="38.60" height="40.10" fill="#c9dac6"/><rect x="971.00" y="871.40" width="37.40" height="39.50" fill="#59a14f"/></svg>
<div class="t ax" style="right:971.8px;top:899.8px">0%</div>
<div class="t ax" style="right:971.8px;top:831.7px">10%</div>
<div class="t ax" style="right:971.8px;top:754.5px">20%</div>
<div class="t ax" style="right:971.8px;top:678.7px">30%</div>
<div class="t ax" style="left:57.2px;width:40px;text-align:center;top:920.2px">0</div>
<div class="t ax" style="left:103.2px;width:40px;text-align:center;top:920.2px">2</div>
<div class="t ax" style="left:153.2px;width:40px;text-align:center;top:920.2px">4</div>
<div class="t ax" style="left:203.2px;width:40px;text-align:center;top:920.2px">6</div>
<div class="t ax" style="left:253.2px;width:40px;text-align:center;top:920.2px">8</div>
<div class="t ax" style="left:303.2px;width:40px;text-align:center;top:920.2px">10</div>
<div class="t ax" style="left:353.2px;width:40px;text-align:center;top:920.2px">12</div>
<div class="t ax" style="left:403.2px;width:40px;text-align:center;top:920.2px">14</div>
<div class="t ax" style="left:453.2px;width:40px;text-align:center;top:920.2px">16</div>
<div class="t axt" style="left:296.3px;top:941.3px;transform:translateX(-50%)">Farm Size (Ha)</div>
<div class="t axt2" style="left:31.6px;top:778.5px;transform:translate(-50%,-50%) rotate(-90deg)">Proportion of Households</div>
<div class="t ax" style="right:461.79999999999995px;top:900.1px">0%</div>
<div class="t ax" style="right:461.79999999999995px;top:860.2px">5%</div>
<div class="t ax" style="right:461.79999999999995px;top:813.5px">10%</div>
<div class="t ax" style="right:461.79999999999995px;top:766.8px">15%</div>
<div class="t ax" style="right:461.79999999999995px;top:720.1px">20%</div>
<div class="t ax" style="right:461.79999999999995px;top:673.4px">25%</div>
<div class="t ax" style="left:572.9px;width:40px;text-align:center;top:920.2px">0%</div>
<div class="t ax" style="left:601.4px;width:40px;text-align:center;top:920.2px">10%</div>
<div class="t ax" style="left:640.6px;width:40px;text-align:center;top:920.2px">20%</div>
<div class="t ax" style="left:679.3000000000001px;width:40px;text-align:center;top:920.2px">30%</div>
<div class="t ax" style="left:718.0px;width:40px;text-align:center;top:920.2px">40%</div>
<div class="t ax" style="left:756.7px;width:40px;text-align:center;top:920.2px">50%</div>
<div class="t ax" style="left:795.4000000000001px;width:40px;text-align:center;top:920.2px">60%</div>
<div class="t ax" style="left:834.1000000000001px;width:40px;text-align:center;top:920.2px">70%</div>
<div class="t ax" style="left:872.8000000000001px;width:40px;text-align:center;top:920.2px">80%</div>
<div class="t ax" style="left:911.5px;width:40px;text-align:center;top:920.2px">90%</div>
<div class="t ax" style="left:950.2px;width:40px;text-align:center;top:920.2px">100%</div>
<div class="t ax" style="left:987.8px;width:40px;text-align:center;top:920.2px">110%</div>
<div class="t axt" style="left:806.5px;top:941.3px;transform:translateX(-50%);letter-spacing:0.22px">Proportion of Crop Sold</div>
<div class="t axt2" style="left:541.6px;top:778.5px;transform:translate(-50%,-50%) rotate(-90deg)">Proportion of Households</div>
</body></html>
